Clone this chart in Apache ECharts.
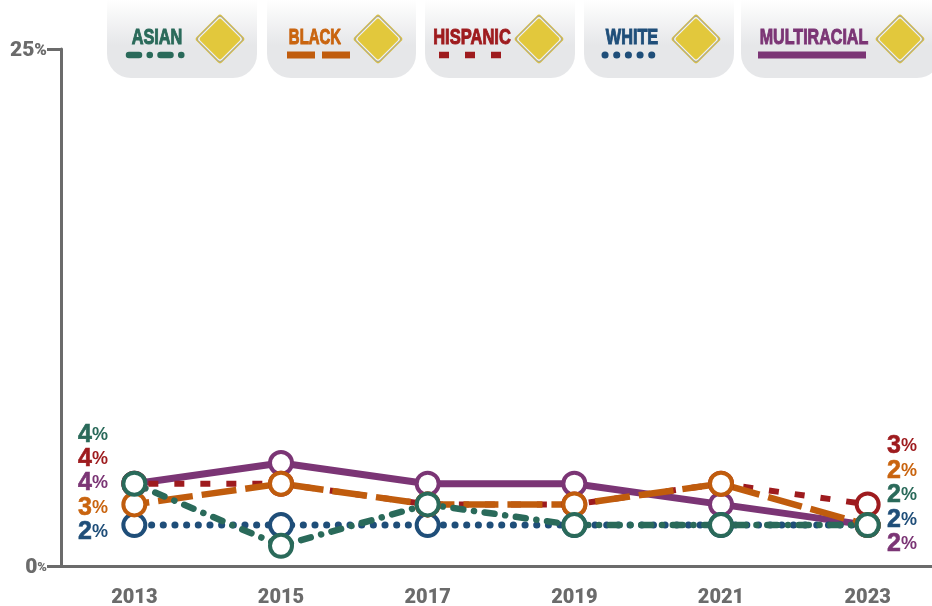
<!DOCTYPE html>
<html><head><meta charset="utf-8">
<style>html,body{margin:0;padding:0;background:#fff}#c{width:932px;height:606px}</style>
<script src="https://cdn.jsdelivr.net/npm/echarts@6/dist/echarts.min.js"></script>
</head><body><div id="c"></div>
<script>
const years = ['2013','2015','2017','2019','2021','2023'];
const asian = [4,1,3,2,2,2];
const black = [3,4,3,3,4,2];
const hispanic = [4,4,3,3,4,3];
const white = [2,2,2,2,2,2];
const multiracial = [4,5,4,4,3,2];

const GRAY='#6b6b6b';
const FONT='"Liberation Sans",sans-serif';
const TICK='Roboto,sans-serif';
const styles = {
  Multiracial:{data:multiracial,color:'#7b3575',text:'#7b3575',dash:'solid',off:0,cap:'butt',w:7,leftY:483,rightY:544,panel:[741,200],label:'MULTIRACIAL',sx:0.73,lx:[758,866],tx:814,dx:900},
  White:{data:white,color:'#1f4e79',text:'#1f4e79',dash:[0.1,11.57],off:6.1,cap:'round',w:7,leftY:532,rightY:520,panel:[584,150],label:'WHITE',sx:0.74,lx:[605,655],tx:632,dx:696},
  Hispanic:{data:hispanic,color:'#9e1b1e',text:'#9e1b1e',dash:[10,16],off:12,cap:'butt',w:6,leftY:459,rightY:446,panel:[425,150],label:'HISPANIC',sx:0.75,lx:[439,503],tx:472,dx:539},
  Black:{data:black,color:'#c05c0d',text:'#c9640f',dash:[35,9],off:20,cap:'butt',w:6.5,leftY:508,rightY:471,panel:[267,149],label:'BLACK',sx:0.68,lx:[287,350],tx:315,dx:378,legendDash:[28,7]},
  Asian:{data:asian,color:'#2a6a5a',text:'#2a6a5a',dash:[10,10.7,0.1,10.7],off:8.8,cap:'round',w:6.5,leftY:435,rightY:495,panel:[107,150],label:'ASIAN',sx:0.74,lx:[129,185],tx:157,dx:220}
};
const names=Object.keys(styles);

const series=names.map(n=>{
  const s=styles[n];
  return {
    name:n,type:'line',data:s.data,clip:false,animation:false,
    symbol:'circle',symbolSize:22,showAllSymbol:true,
    lineStyle:{color:s.color,width:s.w,type:s.dash,dashOffset:s.off,cap:s.cap},
    itemStyle:{color:'#fff',borderColor:s.color,borderWidth:4,opacity:1},
    label:{show:true,
      formatter:p=>(p.dataIndex===0||p.dataIndex===5)?'{n|'+p.value+'}{p|%}':'',
      rich:{
        n:{fontFamily:FONT,fontWeight:'bold',fontSize:25,color:s.text,textBorderColor:s.text,textBorderWidth:0.6},
        p:{fontFamily:FONT,fontWeight:'bold',fontSize:18,color:s.text}
      }},
    labelLayout:p=>{
      if(p.dataIndex===0) return {x:93,y:s.leftY,align:'center',verticalAlign:'middle'};
      if(p.dataIndex===5) return {x:902,y:s.rightY,align:'center',verticalAlign:'middle'};
      return {};
    }
  };
});

const graphic=[];
names.forEach(n=>{
  const s=styles[n];
  graphic.push({type:'rect',silent:true,z:10,shape:{x:s.panel[0],y:-25,width:s.panel[1],height:103,r:24},
    style:{fill:{type:'linear',x:0,y:0,x2:0,y2:1,colorStops:[{offset:0.24,color:'#ffffff'},{offset:0.68,color:'#e6e7e9'},{offset:1,color:'#e6e7e9'}]}}});
  [[36,3,'#d6bd45'],[34,3,'#a8a89c'],[32.5,3,'#f4f4ee'],[30,2,'#e2c83c']].forEach(d=>{
    graphic.push({type:'rect',silent:true,z:11,x:s.dx,y:39,rotation:Math.PI/4,
      shape:{x:-d[0]/2,y:-d[0]/2,width:d[0],height:d[0],r:d[1]},style:{fill:d[2]}});
  });
  graphic.push({type:'text',silent:true,z:12,x:s.tx,y:38,scaleX:s.sx,
    style:{text:s.label,fontFamily:FONT,fontWeight:'bold',fontSize:22,fill:s.text,stroke:s.text,lineWidth:1,align:'center',verticalAlign:'middle'}});
  graphic.push({type:'line',silent:true,z:12,shape:{x1:s.lx[0],y1:55,x2:s.lx[1],y2:55},
    style:{stroke:s.color,lineWidth:n==='Black'||n==='Multiracial'||n==='White'?7:6.5,lineCap:s.cap,
      lineDash:s.legendDash||(s.dash==='solid'?null:s.dash)}});
});

const chart=echarts.init(document.getElementById('c'),null,{renderer:'canvas'});
chart.setOption({
  animation:false,backgroundColor:'#fff',
  grid:{left:61,top:49,width:880,height:517.5,containLabel:false,outerBoundsMode:'none'},
  xAxis:{type:'category',data:years,boundaryGap:true,
    axisLine:{lineStyle:{color:GRAY,width:3}},
    axisTick:{alignWithLabel:true,length:16,lineStyle:{color:GRAY,width:3}},
    axisLabel:{color:GRAY,fontFamily:TICK,fontWeight:900,fontSize:20,margin:21,interval:0},
    splitLine:{show:false}},
  yAxis:{type:'value',min:0,max:25,interval:25,
    axisLine:{show:true,lineStyle:{color:GRAY,width:3}},
    axisTick:{show:true,length:14,lineStyle:{color:GRAY,width:3}},
    axisLabel:{margin:14,padding:[3,0,0,0],formatter:v=>'{n|'+v+'}{'+(v===0?'s':'p')+'|%}',
      rich:{n:{color:GRAY,fontFamily:TICK,fontWeight:900,fontSize:21},
            p:{color:GRAY,fontFamily:TICK,fontWeight:900,fontSize:17},
            s:{color:GRAY,fontFamily:TICK,fontWeight:900,fontSize:13}}},
    splitLine:{show:false}},
  series,graphic
});
</script></body></html>
